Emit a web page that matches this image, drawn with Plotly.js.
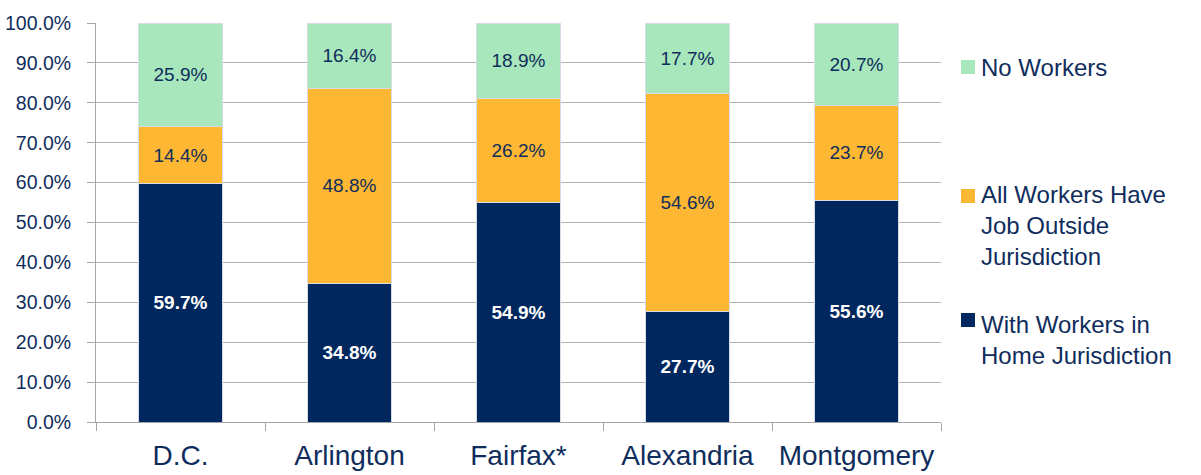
<!DOCTYPE html>
<html>
<head>
<meta charset="utf-8">
<script src="https://cdn.plot.ly/plotly-3.0.1.min.js"></script>
<style>
  html, body { margin: 0; padding: 0; background: #ffffff; }
  #chart { width: 1201px; height: 475px; }
</style>
</head>
<body>
<div id="chart"></div>
<script>
// ---- Data ----
var categories = ["D.C.", "Arlington", "Fairfax*", "Alexandria", "Montgomery"];
var withWorkersHome = [59.7, 34.8, 54.9, 27.7, 55.6];
var allWorkersOutside = [14.4, 48.8, 26.2, 54.6, 23.7];
var noWorkers = [25.9, 16.4, 18.9, 17.7, 20.7];
var seriesNames = ["With Workers in<br>Home Jurisdiction", "All Workers Have<br>Job Outside<br>Jurisdiction", "No Workers"];
var yTickValues = [0, 10, 20, 30, 40, 50, 60, 70, 80, 90, 100];
var yTickLabels = ["0.0%", "10.0%", "20.0%", "30.0%", "40.0%", "50.0%", "60.0%", "70.0%", "80.0%", "90.0%", "100.0%"];

// ---- Style ----
var NAVY = "#00285E";
var ORANGE = "#FDB733";
var GREEN = "#A8E6BB";
var TEXT = "#0F2D5C";
var GRID = "#B2B2B2";
var FONT = "Liberation Sans, Arial, sans-serif";

function fmt(v) { return v.toFixed(1) + "%"; }

function barTrace(vals, color, name, txtColor, bold) {
  return {
    type: "bar",
    x: categories,
    y: vals,
    name: name,
    marker: { color: color, line: { color: "#D5DCE6", width: 1 } },
    text: vals.map(function (v) { return bold ? "<b>" + fmt(v) + "</b>" : fmt(v); }),
    textposition: "inside",
    insidetextanchor: "middle",
    textangle: 0,
    insidetextfont: { family: FONT, size: 19, color: txtColor },
    constraintext: "none",
    hoverinfo: "skip",
    showlegend: false
  };
}

var data = [
  barTrace(withWorkersHome, NAVY, seriesNames[0], "#FFFFFF", true),
  barTrace(allWorkersOutside, ORANGE, seriesNames[1], TEXT, false),
  barTrace(noWorkers, GREEN, seriesNames[2], TEXT, false)
];

var W = 1201, H = 475;
var mL = 96, mR = 260, mT = 23, mB = 53;
var pw = W - mL - mR, ph = H - mT - mB;
function px2x(p) { return (p - mL) / pw; }
function py2y(p) { return (H - mB - p) / ph; }

// Custom legend (positions in pixels converted to paper coords)
var legendItems = [
  { name: seriesNames[2], color: GREEN, top: 60, textMid: 68 },
  { name: seriesNames[1], color: ORANGE, top: 189, textMid: 195 },
  { name: seriesNames[0], color: NAVY, top: 313, textMid: 325 }
];
var shapes = [], annotations = [];
legendItems.forEach(function (it) {
  shapes.push({
    type: "rect", xref: "paper", yref: "paper",
    x0: px2x(961), x1: px2x(975), y0: py2y(it.top + 14), y1: py2y(it.top),
    fillcolor: it.color, line: { width: 0 }
  });
  annotations.push({
    xref: "paper", yref: "paper",
    x: px2x(979), y: py2y(it.textMid - 16),
    xanchor: "left", yanchor: "top", align: "left",
    text: it.name, showarrow: false,
    font: { family: FONT, size: 24, color: TEXT }
  });
});

var layout = {
  width: W, height: H,
  margin: { l: mL, r: mR, t: mT, b: mB, pad: 0 },
  paper_bgcolor: "#FFFFFF",
  plot_bgcolor: "#FFFFFF",
  barmode: "stack",
  bargap: 0.5,
  showlegend: false,
  font: { family: FONT, color: TEXT },
  xaxis: {
    type: "category",
    showline: true, linecolor: "#A6A6A6", linewidth: 1,
    ticks: "outside", tickson: "boundaries", ticklen: 8, tickcolor: "#A6A6A6", tickwidth: 1,
    tickfont: { family: FONT, size: 28, color: TEXT },
    ticklabelstandoff: 8,
    showgrid: false, zeroline: false
  },
  yaxis: {
    range: [0, 100],
    tickvals: yTickValues, ticktext: yTickLabels,
    showline: true, linecolor: "#A6A6A6", linewidth: 1,
    ticks: "outside", ticklen: 8, tickcolor: "#A6A6A6", tickwidth: 1,
    tickfont: { family: FONT, size: 19.5, color: TEXT },
    ticklabelstandoff: 12,
    showgrid: true, gridcolor: GRID, gridwidth: 1,
    zeroline: false
  },
  shapes: shapes,
  annotations: annotations
};

Plotly.newPlot("chart", data, layout, { displayModeBar: false, staticPlot: true });
</script>
</body>
</html>
